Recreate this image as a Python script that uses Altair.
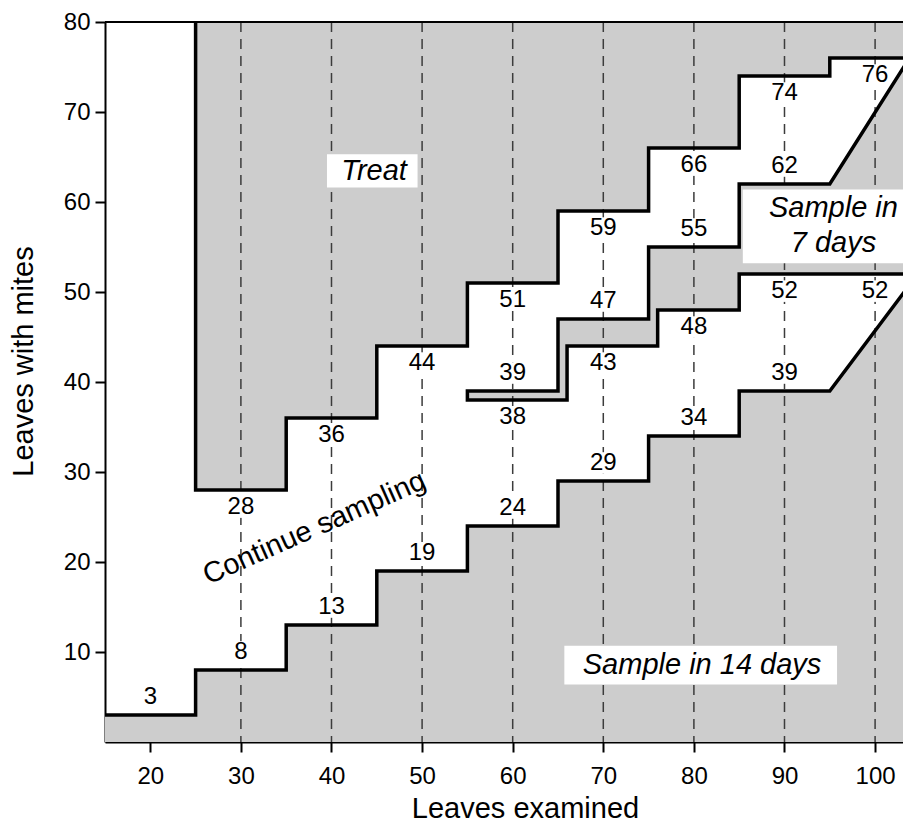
import altair as alt
import pandas as pd

# ---------------- data ----------------
X_MIN, X_MAX = 15, 103.08
Y_MIN, Y_MAX = 0, 80

X_TICKS = [20, 30, 40, 50, 60, 70, 80, 90, 100]
Y_TICKS = [10, 20, 30, 40, 50, 60, 70, 80]
GRID_X = [30, 40, 50, 60, 70, 80, 90, 100]

# "Treat" boundary (step starts and levels)
TREAT_STEP_X = [25, 35, 45, 55, 65, 75, 85, 95]
TREAT_STEP_Y = [28, 36, 44, 51, 59, 66, 74, 76]
TREAT_END_X = 104.7

# "Sample in 14 days" boundary
LOW_STEP_X = [15, 25, 35, 45, 55, 65, 75, 85]
LOW_STEP_Y = [3, 8, 13, 19, 24, 29, 34, 39]
LOW_FLAT_END = 95
LOW_DIAG_END = (104.7, 52)

# "Sample in 7 days" band: upper edge
UP7_STEP_X = [55, 65, 75, 85]
UP7_STEP_Y = [39, 47, 55, 62]
UP7_FLAT_END = 95
UP7_DIAG_END = (103.8, 76)

# "Sample in 7 days" band: lower edge
LO7_STEP_X = [55, 66, 76, 85]
LO7_STEP_Y = [38, 44, 48, 52]
LO7_END_X = 104.7

# number labels: x, text, level of the line they belong to
ABOVE_X = [20, 30, 40, 50, 60, 70, 80, 90, 60, 70, 80, 90]
ABOVE_TEXT = ["3", "8", "13", "19", "24", "29", "34", "39", "39", "47", "55", "62"]
ABOVE_LEVEL = [3, 8, 13, 19, 24, 29, 34, 39, 39, 47, 55, 62]

BELOW_X = [30, 40, 50, 60, 70, 80, 90, 100, 60, 70, 80, 90, 100]
BELOW_TEXT = ["28", "36", "44", "51", "59", "66", "74", "76", "38", "43", "48", "52", "52"]
BELOW_LEVEL = [28, 36, 44, 51, 59, 66, 74, 76, 38, 44, 48, 52, 52]

# region labels
REGION_TEXT = ["Treat", "Sample in 14 days", "Sample in", "7 days"]
REGION_X = [44.7, 80.9, 95.4, 95.4]
REGION_Y = [63.4, 8.6, 59.3, 55.4]

BOX_X = [39.5, 65.7, 85.4]
BOX_X2 = [49.5, 95.8, 104.7]
BOX_Y = [61.6, 6.4, 53.2]
BOX_Y2 = [65.3, 10.7, 61.4]

CONT_TEXT = ["Continue sampling"]
CONT_X = [38.1]
CONT_Y = [23.8]

GRAY = "#cdcdcd"
FONT = "Liberation Sans"


def step_path(xs, ys, x_end):
    pts = []
    for i, (x, y) in enumerate(zip(xs, ys)):
        if i:
            pts.append((x, ys[i - 1]))
        pts.append((x, y))
    pts.append((x_end, ys[-1]))
    return pts


treat_pts = step_path(TREAT_STEP_X, TREAT_STEP_Y, TREAT_END_X)
low_pts = step_path(LOW_STEP_X, LOW_STEP_Y, LOW_FLAT_END) + [LOW_DIAG_END]
up7_pts = step_path(UP7_STEP_X, UP7_STEP_Y, UP7_FLAT_END) + [UP7_DIAG_END]
lo7_pts = step_path(LO7_STEP_X, LO7_STEP_Y, LO7_END_X)

x_scale = alt.Scale(domain=[X_MIN, X_MAX], nice=False, zero=False)
y_scale = alt.Scale(domain=[Y_MIN, Y_MAX], nice=False, zero=False)

common_axis = dict(
    grid=False, tickSize=10, tickWidth=2, tickColor="black",
    domainColor="black", domainWidth=2, labelFont=FONT, labelFontSize=24,
    labelColor="black", titleFont=FONT, titleFontSize=29,
    titleFontWeight="normal", titleColor="black", format="d",
)
x_axis = alt.Axis(title="Leaves examined", values=X_TICKS, labelPadding=12,
                  titleX=420, titleY=75, titleBaseline="alphabetic",
                  titleAlign="center", **common_axis)
y_axis = alt.Axis(title="Leaves with mites", values=Y_TICKS, labelPadding=5,
                  titleAngle=270, titleX=-82, titleY=339,
                  titleBaseline="middle", titleAlign="center", **common_axis)


def X(field):
    return alt.X(field, scale=x_scale, axis=x_axis)


def Y(field):
    return alt.Y(field, scale=y_scale, axis=y_axis)


def step_area(xs, ys, x_end, base, color, x_start=None):
    """Filled area between a step boundary and a constant base level."""
    xs = list(xs)
    if x_start is not None:
        xs[0] = x_start
    df = pd.DataFrame({
        "x": xs + [x_end],
        "y": list(ys) + [ys[-1]],
        "base": [base] * (len(xs) + 1),
    })
    return alt.Chart(df).mark_area(
        color=color, interpolate="step-after", clip=True, opacity=1
    ).encode(x=X("x:Q"), y=Y("y:Q"), y2="base:Q")


def diag_area(p0, p1, base, color):
    df = pd.DataFrame({"x": [p0[0], p1[0]], "y": [p0[1], p1[1]], "base": [base, base]})
    return alt.Chart(df).mark_area(
        color=color, interpolate="linear", clip=True, opacity=1
    ).encode(x=X("x:Q"), y=Y("y:Q"), y2="base:Q")


band_top = step_area(UP7_STEP_X, UP7_STEP_Y, LO7_END_X, Y_MIN, GRAY)
band_top_diag = diag_area((UP7_FLAT_END, UP7_STEP_Y[-1]), UP7_DIAG_END, Y_MIN, GRAY)
band_under = step_area(LO7_STEP_X, LO7_STEP_Y, LO7_END_X, Y_MIN, "white",
                       x_start=LO7_STEP_X[0] - 1)
low_area = step_area(LOW_STEP_X, LOW_STEP_Y, LOW_DIAG_END[0], Y_MIN, GRAY)
low_diag = diag_area((LOW_FLAT_END, LOW_STEP_Y[-1]), LOW_DIAG_END, Y_MIN, GRAY)
treat_area = step_area(TREAT_STEP_X, TREAT_STEP_Y, TREAT_END_X, Y_MAX, GRAY)

grid = alt.Chart(pd.DataFrame({"x": GRID_X})).mark_rule(
    color="#3c3c3c", strokeDash=[10, 7], strokeWidth=1.5
).encode(x=X("x:Q"))

# white boxes behind the number labels
ABOVE_GAP, BELOW_GAP = 2.0, 1.9
num_df = pd.DataFrame({
    "x": ABOVE_X + BELOW_X,
    "text": ABOVE_TEXT + BELOW_TEXT,
    "ly": [v + ABOVE_GAP for v in ABOVE_LEVEL] + [v - BELOW_GAP for v in BELOW_LEVEL],
})
box_shape = "M-1,-0.72L1,-0.72L1,0.72L-1,0.72Z"
num_boxes = alt.Chart(num_df).mark_point(
    shape=box_shape, size=900, filled=True, color="white", opacity=1, strokeWidth=0
).encode(x=X("x:Q"), y=Y("ly:Q"))

reg_box_df = pd.DataFrame({"x": BOX_X, "x2": BOX_X2, "y": BOX_Y, "y2": BOX_Y2})
reg_boxes = alt.Chart(reg_box_df).mark_rect(color="white", clip=True).encode(
    x=X("x:Q"), x2="x2:Q", y=Y("y:Q"), y2="y2:Q",
)

# outlines
outline_rows = []
for name, pts in [
    ("treat", [(TREAT_STEP_X[0], Y_MAX)] + treat_pts),
    ("low", low_pts),
    ("band", list(reversed(lo7_pts)) + up7_pts),
]:
    for i, (x, y) in enumerate(pts):
        outline_rows.append({"path": name, "x": x, "y": y, "i": i})
outline = alt.Chart(pd.DataFrame(outline_rows)).mark_line(
    color="black", strokeWidth=3.5, clip=True, strokeJoin="miter", strokeCap="square"
).encode(x=X("x:Q"), y=Y("y:Q"), detail="path:N", order="i:Q")

top_frame = alt.Chart(pd.DataFrame({"y": [Y_MAX]})).mark_rule(
    color="black", strokeWidth=2
).encode(y=Y("y:Q"))

num_text = alt.Chart(num_df).mark_text(
    font=FONT, fontSize=24, color="black", baseline="middle", align="center"
).encode(x=X("x:Q"), y=Y("ly:Q"), text="text:N")

reg_text = alt.Chart(pd.DataFrame({"x": REGION_X, "y": REGION_Y, "t": REGION_TEXT})).mark_text(
    font=FONT, fontSize=29, fontStyle="italic", color="black",
    baseline="middle", align="center"
).encode(x=X("x:Q"), y=Y("y:Q"), text="t:N")

cont_text = alt.Chart(pd.DataFrame({"x": CONT_X, "y": CONT_Y, "t": CONT_TEXT})).mark_text(
    font=FONT, fontSize=29, color="black", baseline="middle", align="center", angle=336
).encode(x=X("x:Q"), y=Y("y:Q"), text="t:N")

chart = alt.layer(
    band_top, band_top_diag, band_under, low_area, low_diag, treat_area,
    grid, top_frame, num_boxes, reg_boxes, outline, num_text, reg_text, cont_text,
).properties(
    width=798, height=720,
    autosize=alt.AutoSizeParams(type="none"),
    padding={"left": 97, "top": 14, "right": 0, "bottom": 82},
    background="white",
).configure_view(stroke=None)

chart.save("out.html", embed_options={"renderer": "svg", "actions": False})
